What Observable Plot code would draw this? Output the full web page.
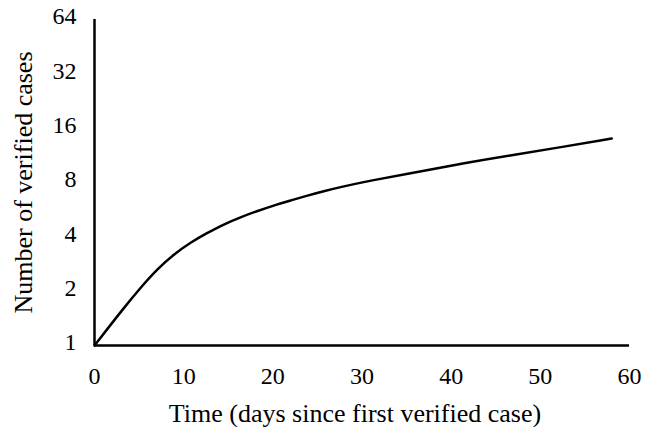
<!DOCTYPE html>
<html>
<head>
<meta charset="utf-8">
<script src="https://cdn.jsdelivr.net/npm/d3@7"></script>
<script src="https://cdn.jsdelivr.net/npm/@observablehq/plot@0.6"></script>
<style>
  html, body { margin: 0; padding: 0; background: #fff; }
</style>
</head>
<body>
<div id="chart"></div>
<script>
const days = [0, 3.3, 5.2, 7.0, 8.9, 10.8, 12.6, 14.5, 16.4, 18.2, 20.1, 22.0, 23.9, 25.7, 27.6, 31.0, 35.4, 41.0, 46.6, 52.3, 58.0];
const cases = [1, 1.62, 2.10, 2.64, 3.20, 3.73, 4.19, 4.70, 5.14, 5.55, 5.97, 6.36, 6.78, 7.16, 7.55, 8.21, 8.98, 10.16, 11.29, 12.55, 14.02];
const xTicks = [0, 10, 20, 30, 40, 50, 60];
const yTicks = [1, 2, 4, 8, 16, 32, 64];
const xLabel = "Time (days since first verified case)";
const yLabel = "Number of verified cases";

const data = days.map((d, i) => ({day: d, cases: cases[i]}));

const chart = Plot.plot({
  width: 648,
  height: 427,
  marginLeft: 94,
  marginRight: 19,
  marginTop: 19,
  marginBottom: 82,
  style: {fontFamily: "'Liberation Serif', 'Times New Roman', serif", fontSize: "24px", color: "#000", background: "#fff"},
  x: {domain: [0, 60]},
  y: {type: "log", base: 2, domain: [1, 64], axis: null},
  marks: [
    Plot.axisX({ticks: xTicks, tickSize: 0, tickPadding: 21, fontSize: 24, label: null}),
    Plot.text(yTicks, {x: 0, y: d => d, text: d => String(d), textAnchor: "end", dx: -18, dy: -3, fontSize: 24, fill: "#000"}),
    Plot.ruleX([0], {stroke: "#000", strokeWidth: 2.5}),
    Plot.ruleY([1], {stroke: "#000", strokeWidth: 2.5}),
    Plot.line(data, {x: "day", y: "cases", stroke: "#000", strokeWidth: 2.5, curve: "basis"}),
    Plot.text([xLabel], {frameAnchor: "bottom", dx: -7, dy: 76, fontSize: 26, fill: "#000"}),
    Plot.text([yLabel], {frameAnchor: "left", textAnchor: "middle", dx: -71, rotate: -90, fontSize: 26, fill: "#000"})
  ]
});
document.getElementById("chart").appendChild(chart);
</script>
</body>
</html>
